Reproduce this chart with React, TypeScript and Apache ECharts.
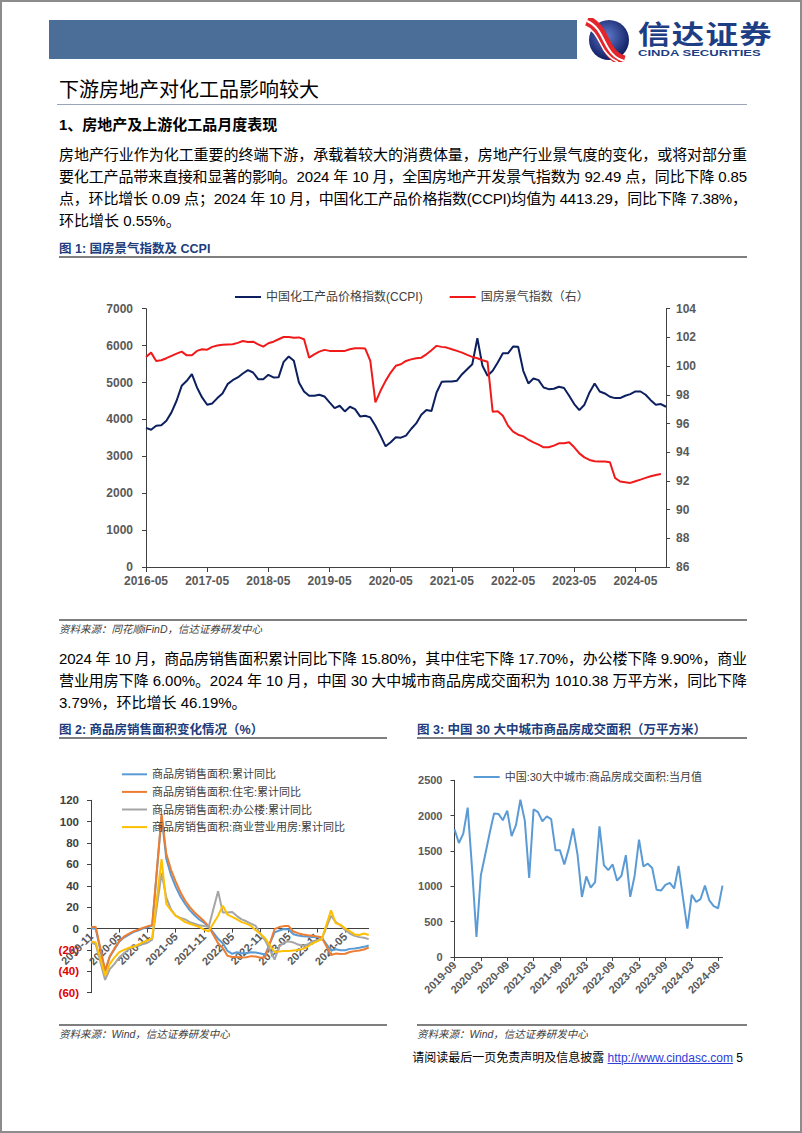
import React, { useEffect, useLayoutEffect, useRef } from "react";
import * as echarts from "echarts";

const FONT = '"Liberation Sans", "Noto Sans CJK SC", sans-serif';

function monthRange(y: number, m: number, count: number): string[] {
  const out: string[] = [];
  for (let i = 0; i < count; i++) {
    const t = (m - 1) + i;
    const yy = y + Math.floor(t / 12);
    const mm = (t % 12) + 1;
    out.push(`${yy}-${mm < 10 ? "0" + mm : mm}`);
  }
  return out;
}

// ---------- Figure 1 ----------
const ccpiMonths = monthRange(2016, 5, 103);
const ccpiValues = [
  3770, 3720, 3830, 3840, 3965, 4190, 4505, 4910, 5046, 5225,
  4865, 4595, 4398, 4433, 4577, 4703, 4955, 5063, 5136, 5244,
  5333, 5271, 5090, 5090, 5208, 5136, 5140, 5560, 5703, 5587,
  5000, 4757, 4640, 4640, 4668, 4622, 4460, 4306, 4370, 4217,
  4343, 4280, 4081, 4100, 4054, 3830, 3560, 3270, 3379, 3514,
  3505, 3560, 3740, 3892, 4127, 4252, 4230, 4730, 5018, 5030,
  5030, 5050, 5225, 5360, 5495, 6198, 5452, 5182, 5317, 5541,
  5793, 5790, 5974, 5970, 5317, 4974, 5109, 5063, 4865, 4820,
  4830, 4884, 4850, 4640, 4415, 4252, 4398, 4730, 4974, 4757,
  4703, 4613, 4577, 4577, 4640, 4685, 4757, 4757, 4668, 4522,
  4398, 4415, 4343,
];
const housingIndexValues = [
  100.64, 100.94, 100.36, 100.41, 100.55, 100.71, 100.87, 101.01, 100.75, 100.75,
  101.06, 101.17, 101.14, 101.34, 101.43, 101.48, 101.5, 101.52, 101.62, 101.75,
  101.68, 101.7, 101.52, 101.36, 101.59, 101.7, 101.87, 102.03, 102.03, 101.98,
  102.0, 101.87, 100.59, 100.82, 101.01, 101.13, 101.06, 101.06, 101.06, 101.06,
  101.17, 101.24, 101.24, 101.22, 100.36, 97.47, 98.28, 98.97, 99.55, 100.02,
  100.13, 100.36, 100.47, 100.55, 100.59, 100.82, 101.1, 101.41, 101.34, 101.29,
  101.17, 101.06, 100.94, 100.78, 100.64, 100.55, 100.41, 100.3, 96.82, 96.85,
  96.54, 95.85, 95.43, 95.22, 95.1, 94.87, 94.69, 94.53, 94.34, 94.34,
  94.46, 94.62, 94.62, 94.69, 94.34, 93.92, 93.64, 93.46, 93.37, 93.35,
  93.35, 93.3, 92.21, 91.96, 91.91, 91.86, 91.98, 92.09, 92.21, 92.32,
  92.41, 92.48, null,
];
const fig1SeriesNames = ["中国化工产品价格指数(CCPI)", "国房景气指数（右）"];

// ---------- Figure 2 ----------
const salesMonths = monthRange(2019, 11, 60);
const salesTotal = [
  0.2, -0.1, null, -39.9, -26.3, -19.3, -12.3, -8.4, -5.8, -3.3, -1.8, 0.0, 1.3, 2.6,
  null, 104.9, 65, 50, 39, 30, 23, 17, 12.5, 8.5, 5.5, 1.9,
  null, -9.6, -13.8, -20.9, -23.6, -22.2, -23.1, -23.0, -22.2, -22.3, -23.3, -24.3,
  null, -3.6, -1.8, -0.4, -0.9, -5.3, -6.5, -7.1, -7.5, -7.8, -8.0, -8.5,
  null, -20.5, -19.4, -20.2, -20.3, -19.0, -18.6, -18.0, -17.1, -15.8,
];
const salesResidential = [
  1.5, 1.5, null, -39.2, -25.9, -18.3, -11.6, -7.6, -4.9, -2.6, -1.1, 0.6, 2.1, 3.2,
  null, 107, 70, 55, 44, 34, 26, 20, 15, 11, 7, 2,
  null, -13.8, -18.3, -25.5, -26.6, -26.6, -27.1, -26.8, -25.8, -26.1, -27.3, -26.8,
  null, -0.6, 1.4, 2.3, 2.3, -2.8, -4.3, -5.5, -6.3, -6.8, -7.3, -8.2,
  null, -24.8, -23.4, -23.8, -23.6, -21.9, -21.1, -20.5, -19.6, -17.7,
];
const salesOffice = [
  -13, -14.7, null, -48, -38, -33, -27, -23, -19.4, -16.7, -16.5, -14.6, -13.3, -10.4,
  null, 52, 29, 18, 12, 10, 8.6, 6, 4.6, 3, 2.5, 1.5,
  null, 35, 15, 15, 15.4, 11.7, 8.6, 6.8, 4.6, 2.5, -5, -11,
  null, -29, -17, -13, -12, -13, -15, -16, -15, -12, -11, -10,
  null, 12, 6, 3, -1.5, -4.6, -6.8, -8, -8.6, -9.9,
];
const salesCommercial = [
  -12, -13, null, -44, -33, -27, -22, -20, -18, -17, -15, -13, -11, -9,
  null, 65, 23, 17, 12, 9, 6, 4.5, 3, 1.5, -1, -2.5,
  null, 12, 21.5, 13, 11, 8.6, 6, 4.6, 2.5, -1.5, -5, -9,
  null, -22, -21.5, -21, -21, -20.5, -20, -19, -17, -14, -12, -10,
  null, 17, 5, 3.7, 0, -2.5, -5.5, -6, -4.6, -6,
];
const fig2SeriesNames = [
  "商品房销售面积:累计同比",
  "商品房销售面积:住宅:累计同比",
  "商品房销售面积:办公楼:累计同比",
  "商品房销售面积:商业营业用房:累计同比",
];

// ---------- Figure 3 ----------
const cityMonths = monthRange(2019, 9, 62);
const cityArea = [
  1807, 1613, 1745, 2113,
  1250, 283, 1156, 1450, 1750, 2030, 2025, 1935, 2070, 1710, 1870, 2225,
  1930, 1120, 2090, 2050, 1920, 1990, 1950, 1510, 1510, 1310, 1530, 1820,
  1450, 850, 1140, 980, 1060, 1850, 1300, 1230, 1310, 1080, 1150, 1440,
  850, 1150, 1660, 1280, 1320, 1260, 950, 940, 1020, 1050, 970, 1290,
  840, 400, 880, 780, 820, 1010, 800, 720, 690, 1010,
];
const fig3SeriesName = "中国:30大中城市:商品房成交面积:当月值";

const AXIS_COLOR = "#404040";
const LABEL_COLOR = "#595959";
const plain = (v: number) => String(v);

function EChart({ option, style }: { option: any; style: React.CSSProperties }) {
  const ref = useRef<HTMLDivElement>(null);
  useEffect(() => {
    if (!ref.current) return;
    const chart = echarts.init(ref.current, undefined, { renderer: "svg" });
    chart.setOption(option);
    return () => chart.dispose();
  }, []);
  return <div ref={ref} style={{ position: "absolute", ...style }} />;
}

const fig1Option = {
  animation: false,
  grid: { left: 104, top: 41.7, right: 76, bottom: 40 },
  legend: {
    left: 188,
    top: 19,
    icon: "rect",
    itemWidth: 26,
    itemHeight: 2,
    itemGap: 27,
    textStyle: { fontSize: 12, color: "#404040", fontFamily: FONT },
    data: fig1SeriesNames,
  },
  xAxis: {
    type: "category",
    data: ccpiMonths,
    boundaryGap: false,
    axisLine: { lineStyle: { color: AXIS_COLOR, width: 1 } },
    axisTick: { interval: 11, length: 5, lineStyle: { color: AXIS_COLOR } },
    axisLabel: { interval: 11, fontSize: 12, fontWeight: "bold", color: LABEL_COLOR, margin: 8, fontFamily: FONT },
    splitLine: { show: false },
  },
  yAxis: [
    {
      type: "value",
      min: 0,
      max: 7000,
      interval: 1000,
      axisLine: { show: true, lineStyle: { color: AXIS_COLOR, width: 1 } },
      axisTick: { show: true, length: 4, lineStyle: { color: AXIS_COLOR } },
      axisLabel: { formatter: plain, fontSize: 12, fontWeight: "bold", color: LABEL_COLOR, margin: 13, fontFamily: FONT },
      splitLine: { show: false },
    },
    {
      type: "value",
      min: 86,
      max: 104,
      interval: 2,
      position: "right",
      axisLine: { show: true, lineStyle: { color: AXIS_COLOR, width: 1 } },
      axisTick: { show: true, length: 4, lineStyle: { color: AXIS_COLOR } },
      axisLabel: { formatter: plain, fontSize: 12, fontWeight: "bold", color: LABEL_COLOR, margin: 10, fontFamily: FONT },
      splitLine: { show: false },
    },
  ],
  series: [
    {
      name: fig1SeriesNames[0],
      type: "line",
      data: ccpiValues,
      symbol: "none",
      lineStyle: { width: 2, color: "#0c1f5e" },
      itemStyle: { color: "#0c1f5e" },
    },
    {
      name: fig1SeriesNames[1],
      type: "line",
      yAxisIndex: 1,
      data: housingIndexValues,
      symbol: "none",
      lineStyle: { width: 2, color: "#f01a1a" },
      itemStyle: { color: "#f01a1a" },
    },
  ],
};

const fig2Colors = ["#5b9bd5", "#ed7d31", "#a5a5a5", "#ffc000"];
const fig2Data = [salesTotal, salesResidential, salesOffice, salesCommercial];
const FIG2_H = 192.4;
const FIG2_MIN = -60;
const FIG2_MAX = 120;

const fig2Option = {
  animation: false,
  grid: { left: 49, top: 53.3, width: 277.7, height: FIG2_H },
  legend: {
    orient: "vertical",
    left: 75,
    top: 15.3,
    icon: "rect",
    itemWidth: 25,
    itemHeight: 2,
    itemGap: 3.6,
    textStyle: { fontSize: 11, lineHeight: 14, color: "#404040", fontFamily: FONT },
    data: fig2SeriesNames,
  },
  xAxis: {
    type: "category",
    data: salesMonths,
    boundaryGap: false,
    // place the whole axis (line, ticks, labels) on the zero line
    offset: -(FIG2_H * (0 - FIG2_MIN)) / (FIG2_MAX - FIG2_MIN),
    axisLine: { onZero: false, lineStyle: { color: AXIS_COLOR, width: 1 } },
    axisTick: { interval: 5, length: 4, lineStyle: { color: AXIS_COLOR } },
    axisLabel: { interval: 5, rotate: 45, fontSize: 11, fontWeight: "bold", color: LABEL_COLOR, margin: 6, fontFamily: FONT },
    splitLine: { show: false },
  },
  yAxis: {
    type: "value",
    min: FIG2_MIN,
    max: FIG2_MAX,
    interval: 20,
    axisLine: { show: true, lineStyle: { color: AXIS_COLOR, width: 1 } },
    axisTick: { show: true, length: 4, lineStyle: { color: AXIS_COLOR } },
    axisLabel: {
      fontSize: 11.5,
      fontWeight: "bold",
      margin: 12,
      fontFamily: FONT,
      formatter: (v: number) => (v < 0 ? `(${-v})` : `${v}`),
      color: (v: any) => (Number(v) < 0 ? "#e00000" : "#404040"),
    },
    splitLine: { show: false },
  },
  series: fig2SeriesNames.map((name, i) => ({
    name,
    type: "line",
    data: fig2Data[i],
    symbol: "none",
    connectNulls: true,
    lineStyle: { width: 2, color: fig2Colors[i] },
    itemStyle: { color: fig2Colors[i] },
  })),
};

const fig3Option = {
  animation: false,
  grid: { left: 52.5, top: 33.3, width: 268, height: 176.7 },
  legend: {
    left: 66.7,
    top: 18,
    icon: "rect",
    itemWidth: 26,
    itemHeight: 2,
    textStyle: { fontSize: 11, lineHeight: 14, color: "#404040", fontFamily: FONT },
    data: [fig3SeriesName],
  },
  xAxis: {
    type: "category",
    data: cityMonths,
    boundaryGap: false,
    axisLine: { lineStyle: { color: AXIS_COLOR, width: 1 } },
    axisTick: { interval: 5, length: 4, lineStyle: { color: AXIS_COLOR } },
    axisLabel: { interval: 5, rotate: 45, fontSize: 11, fontWeight: "bold", color: LABEL_COLOR, margin: 6, fontFamily: FONT },
    splitLine: { show: false },
  },
  yAxis: {
    type: "value",
    min: 0,
    max: 2500,
    interval: 500,
    axisLine: { show: true, lineStyle: { color: AXIS_COLOR, width: 1 } },
    axisTick: { show: true, length: 4, lineStyle: { color: AXIS_COLOR } },
    axisLabel: { formatter: plain, fontSize: 11, fontWeight: "bold", color: LABEL_COLOR, margin: 12, fontFamily: FONT },
    splitLine: { show: false },
  },
  series: [
    {
      name: fig3SeriesName,
      type: "line",
      data: cityArea,
      symbol: "none",
      lineStyle: { width: 2, color: "#5b9bd5" },
      itemStyle: { color: "#5b9bd5" },
    },
  ],
};

const para1 = [
  "房地产行业作为化工重要的终端下游，承载着较大的消费体量，房地产行业景气度的变化，或将对部分重",
  "要化工产品带来直接和显著的影响。2024 年 10 月，全国房地产开发景气指数为 92.49 点，同比下降 0.85",
  "点，环比增长 0.09 点；2024 年 10 月，中国化工产品价格指数(CCPI)均值为 4413.29，同比下降 7.38%，",
];
const para1Last = "环比增长 0.55%。";
const para2 = [
  "2024 年 10 月，商品房销售面积累计同比下降 15.80%，其中住宅下降 17.70%，办公楼下降 9.90%，商业",
  "营业用房下降 6.00%。2024 年 10 月，中国 30 大中城市商品房成交面积为 1010.38 万平方米，同比下降",
];
const para2Last = "3.79%，环比增长 46.19%。";

const TEXT_W = 688;
const LINE_GAP = 22;

function JLine({ text, top }: { text: string; top: number }) {
  return (
    <div style={{ position: "absolute", left: 57, top, width: TEXT_W, height: 21, lineHeight: "21px", fontSize: 15, whiteSpace: "nowrap" }}>
      <span data-justify="1" style={{ display: "inline-block" }}>{text}</span>
    </div>
  );
}

function PlainLine({ text, top }: { text: string; top: number }) {
  return (
    <div style={{ position: "absolute", left: 57, top, lineHeight: "21px", fontSize: 15, whiteSpace: "nowrap" }}>{text}</div>
  );
}

export default function App() {
  const pageRef = useRef<HTMLDivElement>(null);
  useLayoutEffect(() => {
    if (!pageRef.current) return;
    const spans = pageRef.current.querySelectorAll("span[data-justify]");
    spans.forEach((el: any) => {
      el.style.letterSpacing = "0px";
      const w = el.getBoundingClientRect().width;
      const n = (el.textContent || "").length;
      if (n > 1) el.style.letterSpacing = `${(TEXT_W - w) / (n - 1)}px`;
    });
  }, []);

  const caption: React.CSSProperties = {
    position: "absolute",
    fontSize: 12.5,
    lineHeight: "16px",
    fontWeight: 700,
    color: "#203c7c",
    whiteSpace: "nowrap",
  };
  const source: React.CSSProperties = {
    position: "absolute",
    fontSize: 10.5,
    lineHeight: "14px",
    fontStyle: "italic",
    color: "#404040",
    whiteSpace: "nowrap",
  };
  const rule = (left: number, top: number, width: number, h = 2, color = "#7f7f7f"): React.CSSProperties => ({
    position: "absolute",
    left,
    top,
    width,
    height: h,
    background: color,
  });

  return (
    <div
      ref={pageRef}
      style={{
        position: "absolute",
        left: 0,
        top: 0,
        width: 802,
        height: 1133,
        boxSizing: "border-box",
        border: "2px solid #8c8c8c",
        background: "#ffffff",
        overflow: "hidden",
        fontFamily: FONT,
        color: "#000",
      }}
    >
      {/* header */}
      <div style={{ position: "absolute", left: 47, top: 18, width: 528, height: 39, background: "#4a6e98" }} />
      <svg style={{ position: "absolute", left: 582, top: 16 }} width="46" height="44" viewBox="0 0 46 44">
        <defs>
          <radialGradient id="lg" cx="45%" cy="40%" r="60%">
            <stop offset="0" stopColor="#5f7acb" />
            <stop offset="1" stopColor="#0f1d62" />
          </radialGradient>
        </defs>
        <circle cx="25" cy="22" r="20" fill="url(#lg)" />
        <path d="M3,3 C15,8 18,20 24,30 C28,37 33,41 40,43" stroke="#e3262b" strokeWidth="11" fill="none" />
        <path d="M3,3 C15,8 18,20 24,30 C28,37 33,41 40,43" stroke="#ffffff" strokeWidth="2" fill="none" />
        <path d="M1,8 C11,12 14,22 20,32 C24,38 29,42 34,44" stroke="#ffffff" strokeWidth="1.5" fill="none" />
      </svg>
      <div
        style={{
          position: "absolute",
          left: 636,
          top: 18,
          fontSize: 26,
          lineHeight: "30px",
          fontWeight: 700,
          color: "#1d3e84",
          whiteSpace: "nowrap",
          transform: "scaleX(1.25)",
          transformOrigin: "left top",
          letterSpacing: 1,
        }}
      >
        信达证券
      </div>
      <div
        style={{
          position: "absolute",
          left: 636,
          top: 46,
          fontSize: 9,
          lineHeight: "10px",
          fontWeight: 700,
          color: "#1d3e84",
          whiteSpace: "nowrap",
          transform: "scaleX(1.45)",
          transformOrigin: "left top",
        }}
      >
        CINDA SECURITIES
      </div>

      {/* title */}
      <div style={{ position: "absolute", left: 57, top: 76, fontSize: 20, lineHeight: "24px", whiteSpace: "nowrap" }}>
        下游房地产对化工品影响较大
      </div>
      <div style={rule(55, 102, 690, 1, "#9aa6b8")} />

      <div style={{ position: "absolute", left: 57, top: 113, fontSize: 15, lineHeight: "20px", fontWeight: 700, whiteSpace: "nowrap" }}>
        1、房地产及上游化工品月度表现
      </div>
      {para1.map((t, i) => (
        <JLine key={"p1" + i} text={t} top={142 + i * LINE_GAP} />
      ))}
      <PlainLine text={para1Last} top={142 + 3 * LINE_GAP} />

      <div style={{ ...caption, left: 57, top: 239 }}>图 1: 国房景气指数及 CCPI</div>
      <div style={rule(57, 254, 688)} />

      <EChart option={fig1Option} style={{ left: 40, top: 265, width: 700, height: 340 }} />

      <div style={rule(57, 617, 688)} />
      <div style={{ ...source, left: 57, top: 620 }}>资料来源：同花顺iFinD，信达证券研发中心</div>

      {para2.map((t, i) => (
        <JLine key={"p2" + i} text={t} top={645.5 + i * LINE_GAP} />
      ))}
      <PlainLine text={para2Last} top={645.5 + 2 * LINE_GAP} />

      <div style={{ ...caption, left: 57, top: 719.5 }}>图 2: 商品房销售面积变化情况（%）</div>
      <div style={rule(57, 735, 328)} />
      <div style={{ ...caption, left: 415, top: 719.5 }}>图 3: 中国 30 大中城市商品房成交面积（万平方米）</div>
      <div style={rule(415, 735, 330)} />

      <EChart option={fig2Option} style={{ left: 40, top: 745, width: 345, height: 270 }} />
      <EChart option={fig3Option} style={{ left: 400, top: 745, width: 345, height: 270 }} />

      <div style={rule(57, 1022, 328)} />
      <div style={{ ...source, left: 57, top: 1025 }}>资料来源：Wind，信达证券研发中心</div>
      <div style={rule(415, 1022, 330)} />
      <div style={{ ...source, left: 415, top: 1025 }}>资料来源：Wind，信达证券研发中心</div>

      <div style={{ position: "absolute", right: 57, top: 1048, fontSize: 12, lineHeight: "16px", whiteSpace: "nowrap", color: "#000" }}>
        请阅读最后一页免责声明及信息披露{" "}
        <span style={{ color: "#2e3cd6", textDecoration: "underline" }}>http://www.cindasc.com</span> 5
      </div>
    </div>
  );
}
